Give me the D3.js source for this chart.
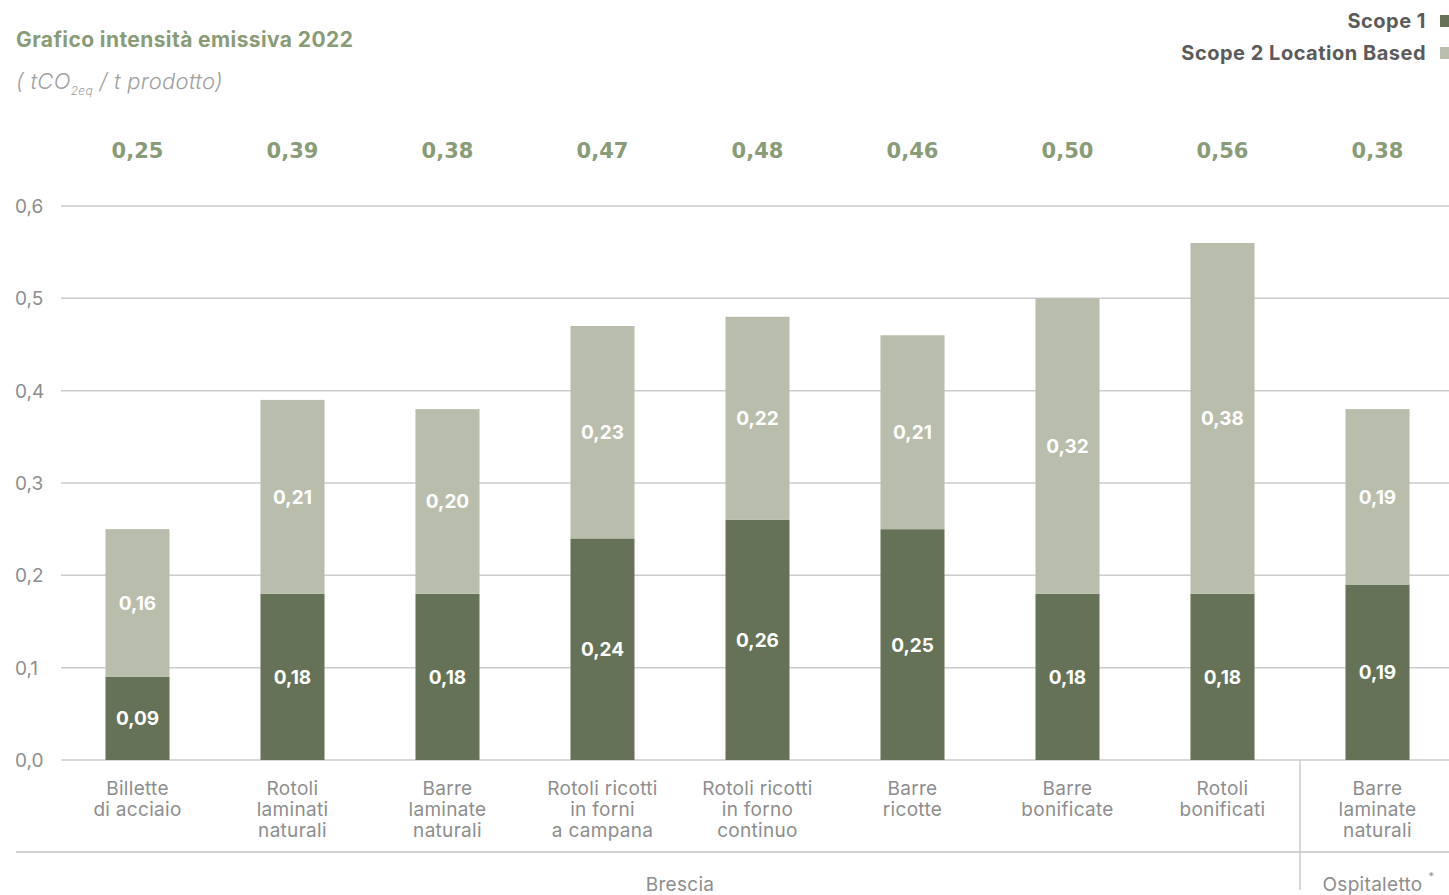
<!DOCTYPE html>
<meta charset="utf-8">
<script src="https://d3js.org/d3.v7.min.js"></script>
<style>
  body { margin: 0; background: #fff; }
  svg text { font-family: Inter, "Open Sans", sans-serif; }
</style>
<div id="chart"></div>
<script>

// data
var categories = [
  ["Billette", "di acciaio"],
  ["Rotoli", "laminati", "naturali"],
  ["Barre", "laminate", "naturali"],
  ["Rotoli ricotti", "in forni", "a campana"],
  ["Rotoli ricotti", "in forno", "continuo"],
  ["Barre", "ricotte"],
  ["Barre", "bonificate"],
  ["Rotoli", "bonificati"],
  ["Barre", "laminate", "naturali"]
];
var scope1 = [0.09, 0.18, 0.18, 0.24, 0.26, 0.25, 0.18, 0.18, 0.19];
var scope2 = [0.16, 0.21, 0.20, 0.23, 0.22, 0.21, 0.32, 0.38, 0.19];
var totals = [0.25, 0.39, 0.38, 0.47, 0.48, 0.46, 0.50, 0.56, 0.38];
var yTicks = [0, 0.1, 0.2, 0.3, 0.4, 0.5, 0.6];
var groups = [
  {name: "Brescia", first: 0, last: 7},
  {name: "Ospitaletto", first: 8, last: 8}
];

var W = 1449, H = 895;
var dark = "#657257", light = "#b9bdab", green = "#8a9b78", grey = "#8e8e8e";
var fmt = function(v) { return d3.format(".2f")(v).replace(".", ","); };

var svg = d3.select("#chart").append("svg")
  .attr("width", W).attr("height", H);

var x = d3.scaleBand()
  .domain(d3.range(categories.length))
  .range([60, 1455])
  .paddingInner(0.587)
  .paddingOuter(0.2935);

var y = d3.scaleLinear()
  .domain([0, 0.6])
  .range([760, 206]);

// grid + tick labels
svg.selectAll(".grid").data(yTicks).enter().append("line")
  .attr("x1", 61).attr("x2", W)
  .attr("y1", function(d) { return y(d); })
  .attr("y2", function(d) { return y(d); })
  .attr("stroke", "#cbcbcb").attr("stroke-width", 1.5);

svg.selectAll(".tick").data(yTicks).enter().append("text")
  .attr("x", 15)
  .attr("y", function(d) { return y(d) + 7; })
  .attr("font-size", 19)
  .attr("fill", grey)
  .text(function(d) { return d3.format(".1f")(d).replace(".", ","); });

// stacked bars
var rows = categories.map(function(c, i) { return {i: i, s1: scope1[i], s2: scope2[i]}; });
var stack = d3.stack().keys(["s1", "s2"])(rows);
var colors = {s1: dark, s2: light};

stack.forEach(function(layer) {
  var g = svg.append("g");
  g.selectAll("rect").data(layer).enter().append("rect")
    .attr("x", function(d) { return x(d.data.i); })
    .attr("width", x.bandwidth())
    .attr("y", function(d) { return y(d[1]); })
    .attr("height", function(d) { return y(d[0]) - y(d[1]); })
    .attr("fill", colors[layer.key]);
  g.selectAll("text").data(layer).enter().append("text")
    .attr("x", function(d) { return x(d.data.i) + x.bandwidth() / 2; })
    .attr("y", function(d) { return (y(d[0]) + y(d[1])) / 2 + 7; })
    .attr("text-anchor", "middle")
    .attr("font-size", 19)
    .attr("font-weight", 700)
    .attr("fill", "#fff")
    .text(function(d) { return fmt(d.data[layer.key]); });
});

// totals on top
svg.selectAll(".total").data(totals).enter().append("text")
  .attr("x", function(d, i) { return x(i) + x.bandwidth() / 2; })
  .attr("y", 158)
  .attr("text-anchor", "middle")
  .style("font-family", "'DejaVu Sans', sans-serif")
  .attr("font-size", 21)
  .attr("font-weight", 700)
  .attr("fill", green)
  .text(fmt);

// category labels
categories.forEach(function(lines, i) {
  var t = svg.append("text")
    .attr("text-anchor", "middle")
    .attr("font-size", 19)
    .attr("letter-spacing", 0.3)
    .attr("fill", grey);
  lines.forEach(function(l, k) {
    t.append("tspan")
      .attr("x", x(i) + x.bandwidth() / 2)
      .attr("y", 795 + k * 21)
      .text(l);
  });
});

// group separators
svg.append("line").attr("x1", 16).attr("x2", W).attr("y1", 852).attr("y2", 852)
  .attr("stroke", "#d2d2d2").attr("stroke-width", 2);
var sepX = (x(7) + x.bandwidth() + x(8)) / 2;
svg.append("line").attr("x1", sepX).attr("x2", sepX).attr("y1", 760).attr("y2", 890)
  .attr("stroke", "#cbcbcb").attr("stroke-width", 1.5);

groups.forEach(function(gr) {
  var cx = gr.last === 8 ? (x(8) + x.bandwidth() / 2 - 5) : 680;
  svg.append("text")
    .attr("x", cx).attr("y", 891)
    .attr("text-anchor", "middle")
    .attr("font-size", 19)
    .attr("letter-spacing", 0.3)
    .attr("fill", grey)
    .text(gr.name);
  if (gr.name === "Ospitaletto") {
    svg.append("text").attr("x", cx + 56).attr("y", 880)
      .attr("font-size", 11).attr("fill", grey).text("*");
  }
});

// title
svg.append("text").attr("x", 16).attr("y", 47)
  .attr("font-size", 21).attr("font-weight", 700).attr("fill", green)
  .attr("letter-spacing", 0.4)
  .text("Grafico intensità emissiva 2022");

var sub = svg.append("text").attr("x", 16).attr("y", 89)
  .attr("font-size", 22).attr("font-style", "italic").attr("font-weight", 300)
  .attr("letter-spacing", 0.3)
  .attr("fill", "#a0a0a0");
sub.append("tspan").text("( tCO");
sub.append("tspan").attr("font-size", 12).attr("dy", 6).text("2eq");
sub.append("tspan").attr("dy", -6).text(" / t prodotto)");

// legend
var legend = [{name: "Scope 1", color: dark}, {name: "Scope 2 Location Based", color: light}];
legend.forEach(function(l, i) {
  svg.append("text").attr("x", 1426).attr("y", 28 + i * 32)
    .attr("text-anchor", "end")
    .attr("font-size", 20).attr("font-weight", 700).attr("fill", "#5b5b5b")
    .attr("letter-spacing", 0.5)
    .text(l.name);
  svg.append("rect").attr("x", 1440).attr("y", 15 + i * 32)
    .attr("width", 9).attr("height", 12).attr("fill", l.color);
});

</script>
